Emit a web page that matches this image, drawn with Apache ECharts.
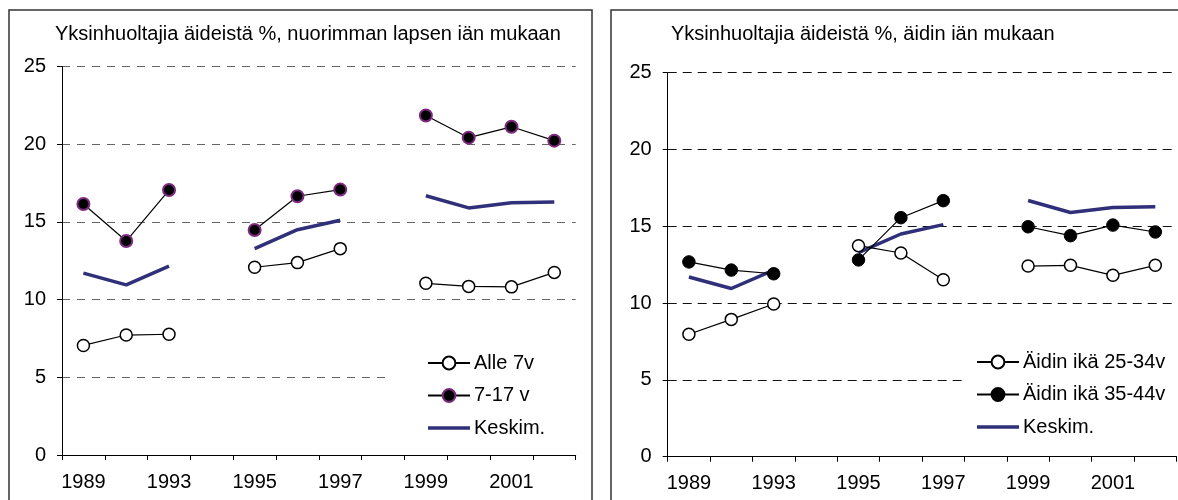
<!DOCTYPE html>
<html>
<head>
<meta charset="utf-8">
<script src="https://cdn.jsdelivr.net/npm/echarts@6/dist/echarts.min.js"></script>
<style>
html,body{margin:0;padding:0;background:#fff;}
#c{width:1178px;height:500px;}
</style>
</head>
<body>
<div id="c"></div>
<script>
// Categories (12 slots, two are gaps)
var categories = ['1989','1991','1993','1994','1995','1996','1997','1998','1999','2000','2001','2002'];
var yTicks = [0, 5, 10, 15, 20, 25];

// Left chart: by age of youngest child
var alle7 = [7.05, 7.72, 7.77, null, 12.08, 12.38, 13.28, null, 11.05, 10.85, 10.82, 11.75];
var v7_17 = [16.15, 13.77, 17.05, null, 14.48, 16.65, 17.08, null, 21.85, 20.42, 21.12, 20.23];
var keskim = [11.7, 10.95, 12.15, null, 13.28, 14.5, 15.11, null, 16.68, 15.9, 16.23, 16.28];

// Right chart: by mother's age
var age25_34 = [7.97, 8.94, 9.94, null, 13.74, 13.26, 11.52, null, 12.41, 12.46, 11.81, 12.46];
var age35_44 = [12.68, 12.15, 11.91, null, 12.81, 15.56, 16.67, null, 14.97, 14.39, 15.08, 14.63];

var titleLeft = 'Yksinhuoltajia äideistä %, nuorimman lapsen iän mukaan';
var titleRight = 'Yksinhuoltajia äideistä %, äidin iän mukaan';

var FONT = '"Liberation Sans", Arial, sans-serif';
var NAVY = '#2f3079';
var chart = echarts.init(document.getElementById('c'), null, {renderer: 'canvas'});

function xAxis(gi) {
  return {
    type: 'category', gridIndex: gi, data: categories, boundaryGap: true,
    axisLine: {show: true, lineStyle: {color: '#000', width: 1}},
    axisTick: {show: true, length: 5, lineStyle: {color: '#000'}, interval: 0},
    axisLabel: {interval: 1, color: '#000', fontSize: 20, fontFamily: FONT, margin: 17}
  };
}
function yAxis(gi, gridColor, dash) {
  return {
    type: 'value', gridIndex: gi, min: yTicks[0], max: yTicks[yTicks.length - 1], interval: 5,
    axisLine: {show: true, lineStyle: {color: '#000', width: 1}},
    axisTick: {show: true, length: 5, lineStyle: {color: '#000'}},
    axisLabel: {color: '#000', fontSize: 20, fontFamily: FONT, margin: 16},
    splitLine: {show: true, lineStyle: {color: gridColor, type: dash, width: 1}}
  };
}
function line(name, data, xi, size, fill, border, bw) {
  return {
    name: name, type: 'line', xAxisIndex: xi, yAxisIndex: xi, data: data,
    connectNulls: false, symbol: 'circle', symbolSize: size, showSymbol: true,
    lineStyle: {color: '#000', width: 1.2},
    itemStyle: {color: fill, borderColor: border, borderWidth: bw},
    emphasis: {disabled: true}, animation: false, z: 3
  };
}
function avg(data, xi) {
  return {
    name: 'Keskim.', type: 'line', xAxisIndex: xi, yAxisIndex: xi, data: data,
    connectNulls: false, symbol: 'none',
    lineStyle: {color: NAVY, width: 3.5},
    itemStyle: {color: NAVY},
    emphasis: {disabled: true}, animation: false, z: 2
  };
}
var avgIcon = {name: 'Keskim.', icon: 'path://M0,0H42V3.5H0Z', itemStyle: {color: NAVY}};

var option = {
  animation: false,
  backgroundColor: '#fff',
  textStyle: {fontFamily: FONT},
  graphic: [
    {type: 'rect', shape: {x: 9, y: 10, width: 583, height: 520}, style: {fill: 'none', stroke: '#333', lineWidth: 1.5}, z: 0, silent: true},
    {type: 'rect', shape: {x: 611, y: 10, width: 600, height: 520}, style: {fill: 'none', stroke: '#333', lineWidth: 1.5}, z: 0, silent: true}
  ],
  title: [
    {text: titleLeft, left: 55, top: 24, padding: 0, textStyle: {fontSize: 20, fontWeight: 'normal', color: '#000', fontFamily: FONT}},
    {text: titleRight, left: 671, top: 24, padding: 0, textStyle: {fontSize: 20, fontWeight: 'normal', color: '#000', fontFamily: FONT}}
  ],
  legend: [
    {data: ['Alle 7v', '7-17 v', avgIcon], orient: 'vertical', left: 390, top: 343,
     padding: [10, 35, 10, 37], backgroundColor: '#fff', itemWidth: 42, itemHeight: 16, itemGap: 12.5,
     textStyle: {fontSize: 20, color: '#000', fontFamily: FONT, padding: [0, 0, 0, -1]}, selectedMode: false, z: 5},
    {data: ['Äidin ikä 25-34v', 'Äidin ikä 35-44v', avgIcon], orient: 'vertical', left: 965, top: 342,
     padding: [10, 7, 10, 11], backgroundColor: '#fff', itemWidth: 42, itemHeight: 16, itemGap: 12.5,
     textStyle: {fontSize: 20, color: '#000', fontFamily: FONT, padding: [0, 0, 0, -1]}, selectedMode: false, z: 5}
  ],
  grid: [
    {left: 62, top: 66.5, width: 513.7, height: 388.5},
    {left: 667.7, top: 72.7, width: 508.8, height: 384}
  ],
  xAxis: [xAxis(0), xAxis(1)],
  yAxis: [yAxis(0, '#666', [8, 7]), yAxis(1, '#111', [9, 6])],
  series: [
    line('Alle 7v', alle7, 0, 12, '#fff', '#000', 1.5),
    line('7-17 v', v7_17, 0, 12, '#000', '#7d2a80', 2),
    avg(keskim, 0),
    line('Äidin ikä 25-34v', age25_34, 1, 12, '#fff', '#000', 1.5),
    line('Äidin ikä 35-44v', age35_44, 1, 12.5, '#000', '#000', 1),
    avg(keskim, 1)
  ]
};
chart.setOption(option);
</script>
</body>
</html>
